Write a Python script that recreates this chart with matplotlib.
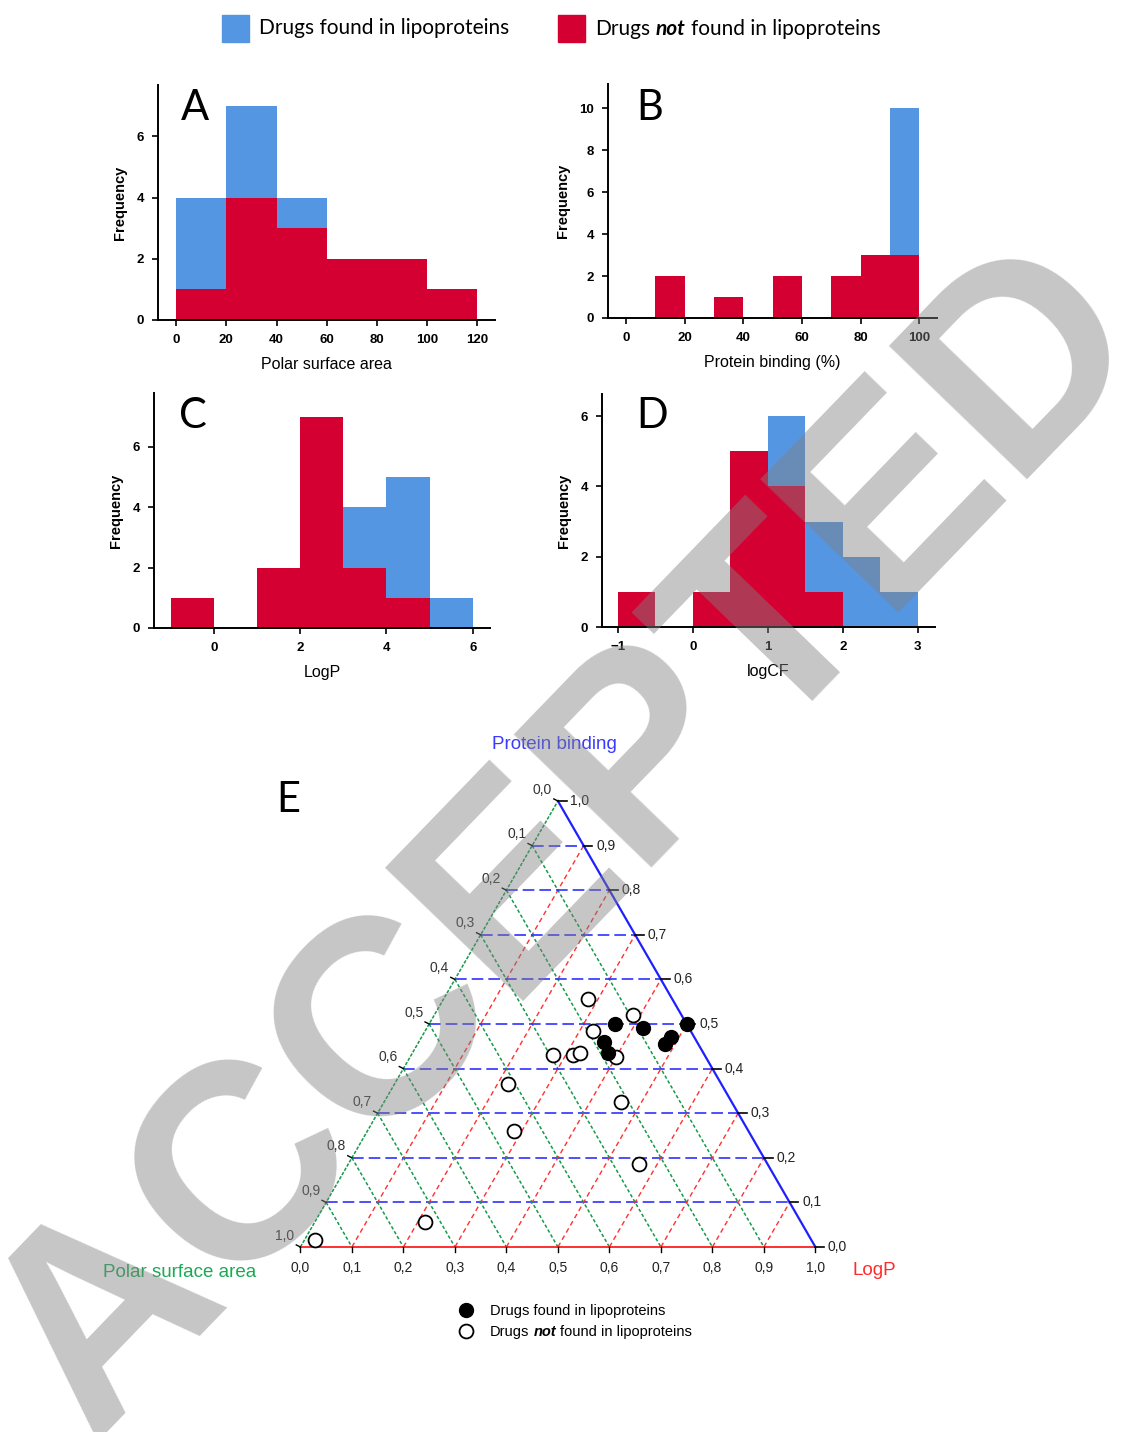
import numpy as np
import matplotlib
matplotlib.use("Agg")
import matplotlib.pyplot as plt
from matplotlib.patches import Rectangle

plt.rcParams['font.family'] = ['Liberation Sans', 'DejaVu Sans']

# histogram data (counts per bin), red = not found, blue = found (stacked)
psa_edges = [0, 20, 40, 60, 80, 100, 120]
psa_not = [1, 4, 3, 2, 2, 1]
psa_found = [3, 3, 1, 0, 0, 0]

pb_edges = [0, 10, 20, 30, 40, 50, 60, 70, 80, 90, 100]
pb_not = [0, 2, 0, 1, 0, 2, 0, 2, 3, 3]
pb_found = [0, 0, 0, 0, 0, 0, 0, 0, 0, 7]

logp_edges = [-1, 0, 1, 2, 3, 4, 5, 6]
logp_not = [1, 0, 2, 7, 2, 1, 0]
logp_found = [0, 0, 0, 0, 2, 4, 1]

logcf_edges = [-1, -0.5, 0, 0.5, 1, 1.5, 2, 2.5, 3]
logcf_not = [1, 0, 1, 5, 4, 1, 0, 0]
logcf_found = [0, 0, 0, 0, 2, 2, 2, 1]

# ternary data: fractions (LogP, protein binding, polar surface area)
found_logp = [0.36, 0.42, 0.36, 0.38, 0.50, 0.485, 0.48]
found_pb = [0.50, 0.49, 0.46, 0.435, 0.50, 0.47, 0.455]
found_psa = [0.14, 0.09, 0.18, 0.185, 0.00, 0.045, 0.065]

not_logp = [0.28, 0.385, 0.325, 0.275, 0.315, 0.325, 0.40, 0.22, 0.46, 0.285, 0.565, 0.215, 0.02]
not_pb = [0.555, 0.52, 0.485, 0.43, 0.43, 0.435, 0.425, 0.365, 0.325, 0.26, 0.185, 0.055, 0.015]
not_psa = [0.165, 0.095, 0.19, 0.295, 0.255, 0.24, 0.175, 0.415, 0.215, 0.455, 0.25, 0.73, 0.965]

tern_ticks = [0.0, 0.1, 0.2, 0.3, 0.4, 0.5, 0.6, 0.7, 0.8, 0.9, 1.0]

BLUE = '#5596E3'
RED = '#D50032'
FW, FH = 1130, 1432


def px_axes(fig, left, top, right, bottom):
    return fig.add_axes([left / FW, 1 - bottom / FH, (right - left) / FW, (bottom - top) / FH])


def fx(x):
    return x / FW


def fy(y):
    return 1 - y / FH


def rich_text(fig, x, y, parts, size, family):
    # draw consecutive text pieces with different styles, x,y in pixels
    r = fig.canvas.get_renderer()
    probe = fig.text(0, 0, 'x x', fontsize=size, family=family)
    probe2 = fig.text(0, 0, 'xx', fontsize=size, family=family)
    space = probe.get_window_extent(r).width - probe2.get_window_extent(r).width
    probe.remove()
    probe2.remove()
    for s, style in parts:
        t = fig.text(fx(x), fy(y), s, fontsize=size, family=family, va='center', ha='left', **style)
        x += t.get_window_extent(r).width + space


def hist_panel(ax, edges, n_not, n_found, xlim, ylim, xticks, yticks, xlabel):
    edges = np.array(edges, dtype=float)
    w = np.diff(edges)
    ax.bar(edges[:-1], n_not, width=w, align='edge', color=RED, linewidth=0)
    ax.bar(edges[:-1], n_found, width=w, bottom=n_not, align='edge', color=BLUE, linewidth=0)
    ax.set_xlim(*xlim)
    ax.set_ylim(*ylim)
    ax.set_xticks(xticks)
    ax.set_yticks(yticks)
    ax.spines[['top', 'right']].set_visible(False)
    for s in ['left', 'bottom']:
        ax.spines[s].set_linewidth(1.4)
    ax.tick_params(direction='out', length=4, width=1.2, labelsize=9.5, pad=6)
    for lab in ax.get_xticklabels() + ax.get_yticklabels():
        lab.set_fontweight('bold')
    ax.set_xlabel(xlabel, fontsize=11.5, labelpad=8)
    ax.set_ylabel('Frequency', fontsize=10.5, fontweight='bold', labelpad=7)


fig = plt.figure(figsize=(11.3, 14.32), dpi=100)

axA = px_axes(fig, 158, 85, 495, 320)
hist_panel(axA, psa_edges, psa_not, psa_found, (-7.2, 127), (0, 7.68),
           [0, 20, 40, 60, 80, 100, 120], [0, 2, 4, 6], 'Polar surface area')
axB = px_axes(fig, 608, 84, 937, 318)
hist_panel(axB, pb_edges, pb_not, pb_found, (-6.1, 106), (0, 11.16),
           [0, 20, 40, 60, 80, 100], [0, 2, 4, 6, 8, 10], 'Protein binding (%)')
axC = px_axes(fig, 154, 393, 490, 628)
hist_panel(axC, logp_edges, logp_not, logp_found, (-1.39, 6.40), (0, 7.78),
           [0, 2, 4, 6], [0, 2, 4, 6], 'LogP')
axD = px_axes(fig, 602, 394, 935, 627)
hist_panel(axD, logcf_edges, logcf_not, logcf_found, (-1.21, 3.23), (0, 6.63),
           [-1, 0, 1, 2, 3], [0, 2, 4, 6], 'logCF')

for letter, (x, y) in zip('ABCDE', [(195, 108), (650, 108), (193, 416), (652, 416), (288, 800)]):
    fig.text(fx(x), fy(y), letter, fontsize=30, family='Lato', ha='center', va='center')

# top legend
fig.patches.append(Rectangle((fx(222), fy(42)), 27 / FW, 27 / FH, transform=fig.transFigure,
                             color=BLUE, figure=fig))
fig.patches.append(Rectangle((fx(558), fy(42)), 27 / FW, 27 / FH, transform=fig.transFigure,
                             color=RED, figure=fig))
fig.text(fx(259), fy(28), 'Drugs found in lipoproteins', fontsize=15, family='Lato',
         ha='left', va='center')
rich_text(fig, 595, 29, [('Drugs', {}), ('not', {'style': 'italic', 'weight': 'bold'}),
                         ('found in lipoproteins', {})], 15, 'Lato')

# ternary plot
S = 515.0
x0, ybase = 300.4, 1247.0
xl, xr, yl, yt = -0.3, 1.3, -0.2, 1.0
axE = px_axes(fig, x0 + xl * S, ybase - yt * S, x0 + xr * S, ybase - yl * S)
axE.set_xlim(xl, xr)
axE.set_ylim(yl, yt)
axE.axis('off')
h = np.sqrt(3) / 2


def tern(a, b):
    a = np.asarray(a, dtype=float)
    b = np.asarray(b, dtype=float)
    return a + b / 2, b * h


GB, GR, GG = '#3030ff', '#ff3030', '#159a4a'
for t in tern_ticks[1:-1]:
    # constant protein binding
    xs, ys = tern([0, 1 - t], [t, t])
    axE.plot(xs, ys, color=GB, lw=1.2, dashes=(7, 3))
    # constant LogP
    xs, ys = tern([t, t], [0, 1 - t])
    axE.plot(xs, ys, color=GR, lw=1.0, dashes=(3.5, 2.5))
    # constant polar surface area
    xs, ys = tern([0, 1 - t], [1 - t, 0])
    axE.plot(xs, ys, color=GG, lw=1.1, dashes=(2.2, 1.5))

xs, ys = tern([0, 1], [0, 0])
axE.plot(xs, ys, color='#ff2020', lw=1.3)
xs, ys = tern([1, 0], [0, 1])
axE.plot(xs, ys, color='#2020ff', lw=1.6)
xs, ys = tern([0, 0], [0, 1])
axE.plot(xs, ys, color=GG, lw=1.1, dashes=(2.2, 1.0))

lab = lambda v: ('%.1f' % v).replace('.', ',')
for t in tern_ticks:
    # bottom axis (LogP)
    bx, by = tern(t, 0)
    axE.plot([bx, bx], [by, by - 0.01], color='k', lw=1)
    axE.text(bx, by - 0.04, lab(t), fontsize=10, ha='center', va='center', color='#222222')
    # right axis (protein binding)
    rx, ry = tern(1 - t, t)
    axE.plot([rx, rx + 0.017], [ry, ry], color='k', lw=1.2)
    axE.text(rx + 0.024, ry, lab(t), fontsize=10, ha='left', va='center', color='#222222')
    # left axis (polar surface area)
    lx, ly = tern(0, 1 - t)
    axE.plot([lx - 0.008, lx], [ly + 0.004, ly], color='k', lw=1)
    axE.text(lx - 0.03, ly + 0.022, lab(t), fontsize=10, ha='center', va='center', color='#333333')

tot = np.array(found_logp) + np.array(found_pb) + np.array(found_psa)
fxs, fys = tern(np.array(found_logp) / tot, np.array(found_pb) / tot)
tot = np.array(not_logp) + np.array(not_pb) + np.array(not_psa)
nxs, nys = tern(np.array(not_logp) / tot, np.array(not_pb) / tot)
axE.plot(nxs, nys, 'o', ms=10, mfc='white', mec='black', mew=1.3, zorder=5, clip_on=False)
axE.plot(fxs, fys, 'o', ms=10, mfc='black', mec='black', mew=1.0, zorder=6, clip_on=False)

axE.text(0.494, 0.975, 'Protein binding', color='#3a3aff', fontsize=13.5, ha='center', va='center')
axE.text(-0.234, -0.049, 'Polar surface area', color='#1aaa55', fontsize=13.5, ha='center', va='center')
axE.text(1.114, -0.045, 'LogP', color='#ff2a2a', fontsize=13.5, ha='center', va='center')

# ternary legend
axE.plot([(466 - x0) / S], [(ybase - 1310) / S], 'o', ms=10, mfc='black', mec='black', clip_on=False)
axE.plot([(466 - x0) / S], [(ybase - 1331) / S], 'o', ms=10, mfc='white', mec='black', mew=1.3,
         clip_on=False)
fig.text(fx(490), fy(1311), 'Drugs found in lipoproteins', fontsize=10.5, ha='left', va='center')
rich_text(fig, 490, 1332, [('Drugs', {}), ('not', {'style': 'italic', 'weight': 'bold'}),
                           ('found in lipoproteins', {})], 10.5, 'Liberation Sans')

# watermark
fig.text(fx(570), fy(842), 'ACCEPTED', rotation=46, rotation_mode='anchor', fontsize=200,
         fontweight='bold', color='#808080', alpha=0.45, ha='center', va='center', zorder=100)

fig.savefig('out.png', dpi=100)
